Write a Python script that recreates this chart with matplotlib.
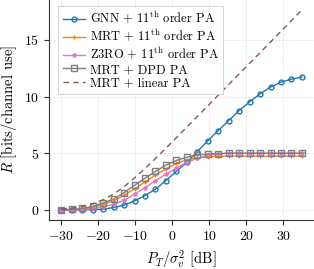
import numpy as np
import matplotlib
matplotlib.use('Agg')
import matplotlib.pyplot as plt

plt.rcParams['font.family'] = 'serif'
plt.rcParams['font.serif'] = ['cmr10', 'DejaVu Serif']
plt.rcParams['mathtext.fontset'] = 'cm'
plt.rcParams['axes.formatter.use_mathtext'] = True
plt.rcParams['axes.unicode_minus'] = True

# transmit power over noise [dB]
snr_db = [-30.0, -27.17, -24.35, -21.52, -18.70, -15.87, -13.04, -10.22,
          -7.39, -4.57, -1.74, 1.09, 3.91, 6.74, 9.57, 12.39, 15.22, 18.04,
          20.87, 23.70, 26.52, 29.35, 32.17, 35.0]

rate_gnn = [0.0, 0.0, 0.02, 0.04, 0.07, 0.23, 0.43, 0.81, 1.28, 1.84, 2.6, 3.41,
            4.2, 5.15, 6.1, 7.0, 7.88, 8.76, 9.53, 10.24, 10.83, 11.27, 11.53, 11.71]
rate_mrt = [0.0, 0.03, 0.09, 0.24, 0.5, 0.82, 1.3, 1.88, 2.47, 3.09, 3.62, 4.12,
            4.42, 4.6, 4.7, 4.73, 4.75, 4.75, 4.75, 4.75, 4.75, 4.75, 4.75, 4.75]
rate_z3ro = [0.0, 0.0, 0.03, 0.12, 0.3, 0.5, 0.86, 1.39, 1.97, 2.59, 3.18, 3.7,
             4.2, 4.55, 4.85, 4.95, 5.0, 5.0, 5.0, 5.0, 5.0, 5.0, 5.0, 5.0]
rate_dpd = [0.0, 0.06, 0.14, 0.32, 0.63, 0.97, 1.53, 2.18, 2.8, 3.41, 3.95, 4.37,
            4.65, 4.85, 4.94, 4.98, 5.0, 5.0, 5.0, 5.0, 5.0, 5.0, 5.0, 5.0]
rate_linear = [0.09, 0.17, 0.31, 0.54, 0.9, 1.41, 2.06, 2.83, 3.66, 4.54, 5.45,
               6.38, 7.31, 8.24, 9.18, 10.12, 11.06, 12.0, 12.93, 13.87, 14.81,
               15.75, 16.69, 17.63]

fig = plt.figure(figsize=(3.14, 2.69), dpi=100)
ax = fig.add_axes([0.157, 0.182, 0.843, 0.818])

ax.plot(snr_db, rate_gnn, color='tab:blue', marker='o', markersize=3.5,
        markerfacecolor='none', linewidth=1, label='GNN + 11$^{\\mathrm{th}}$ order PA')
ax.plot(snr_db, rate_mrt, color='tab:orange', marker='+', markersize=3.5,
        linewidth=1, label='MRT + 11$^{\\mathrm{th}}$ order PA')
ax.plot(snr_db, rate_z3ro, color='tab:pink', marker='*', markersize=3,
        linewidth=1, label='Z3RO + 11$^{\\mathrm{th}}$ order PA')
ax.plot(snr_db, rate_dpd, color='tab:gray', marker='s', markersize=4,
        markerfacecolor='none', linewidth=1, label='MRT + DPD PA')
ax.plot(snr_db, rate_linear, color='tab:brown', linestyle=(0, (4, 3)), linewidth=1,
        label='MRT + linear PA')

ax.set_xlim(-33.25, 38.25)
ax.set_ylim(-0.88, 18.5)
ax.set_xticks([-30, -20, -10, 0, 10, 20, 30])
ax.set_yticks([0, 5, 10, 15])
ax.tick_params(labelsize=10, length=3.5, width=0.8, color='#333333')
ax.grid(True, linestyle='--', linewidth=0.5, color='#e0e0e0')
ax.spines['top'].set_visible(False)
ax.spines['right'].set_visible(False)
for s in ['left', 'bottom']:
    ax.spines[s].set_color('#333333')
    ax.spines[s].set_linewidth(0.8)

ax.set_xlabel('$P_T/\\sigma_v^2$ [dB]', fontsize=10.5)
ax.set_ylabel('$R$ [bits/channel use]', fontsize=10.5)

leg = ax.legend(loc='upper left', bbox_to_anchor=(0.025, 0.985), fontsize=9,
                fancybox=False, framealpha=1, edgecolor='#cccccc',
                handlelength=1.8, borderpad=0.35, labelspacing=0.12,
                handletextpad=0.35, borderaxespad=0.2)
leg.get_frame().set_linewidth(0.6)

fig.savefig('out.png', dpi=100)
